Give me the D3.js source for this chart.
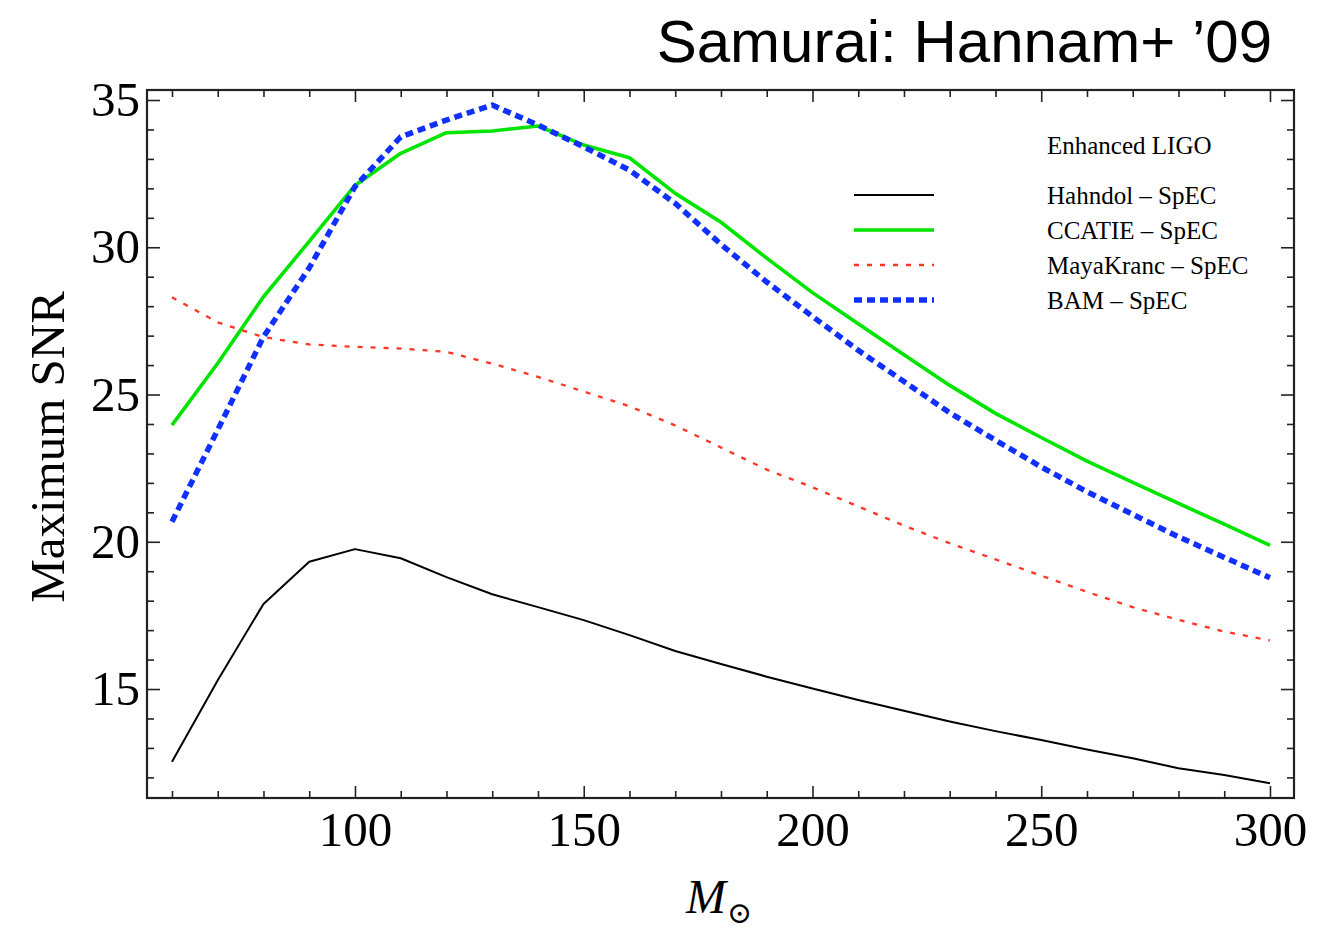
<!DOCTYPE html>
<html>
<head>
<meta charset="utf-8">
<script src="https://cdn.jsdelivr.net/npm/d3@7"></script>
<style>
body{margin:0;background:#fff;}
svg{display:block;}
.axis text{font-family:"Liberation Serif","Times New Roman",serif;font-size:49px;fill:#000;}
.axis line{stroke:#222;stroke-width:1.6;}
.axis path{display:none;}
</style>
</head>
<body>
<div id="chart"></div>
<script>
// data (solar masses vs max SNR)
var mass      = [60,70,80,90,100,110,120,130,140,150,160,170,180,190,200,210,220,230,240,250,260,270,280,290,300];
var hahndol   = [12.53,15.30,17.89,19.32,19.75,19.44,18.80,18.22,17.78,17.34,16.83,16.29,15.85,15.42,15.02,14.63,14.26,13.90,13.57,13.27,12.95,12.65,12.31,12.08,11.80];
var ccatie    = [23.96,26.06,28.32,30.20,32.10,33.19,33.89,33.95,34.12,33.47,33.04,31.83,30.85,29.63,28.46,27.40,26.35,25.31,24.36,23.54,22.74,22.02,21.30,20.60,19.88];
var mayakranc = [28.30,27.45,26.95,26.70,26.62,26.56,26.45,26.05,25.60,25.10,24.60,23.95,23.20,22.45,21.85,21.20,20.55,19.95,19.40,18.85,18.30,17.78,17.35,16.95,16.65];
var bam       = [20.68,23.80,26.96,29.30,32.06,33.75,34.32,34.83,34.15,33.41,32.62,31.49,30.10,28.82,27.65,26.50,25.44,24.38,23.45,22.54,21.70,20.93,20.17,19.47,18.78];
var names     = ['Hahndol \u2013 SpEC','CCATIE \u2013 SpEC','MayaKranc \u2013 SpEC','BAM \u2013 SpEC'];
var xmajor    = [100,150,200,250,300];
var ymajor    = [15,20,25,30,35];

var W = 1329, H = 929;
var box = {l:147, r:1294, t:90, b:798};

var styles = [
  {color:'#000000', width:2,   dash:null},
  {color:'#00e400', width:3.6, dash:null},
  {color:'#ff3424', width:2.3, dash:'5,8'},
  {color:'#1030ff', width:5.5, dash:'8,5'}
];

var svg = d3.select('#chart').append('svg').attr('width',W).attr('height',H);

var x = d3.scaleLinear().domain([54.54,305.25]).range([box.l,box.r]);
var y = d3.scaleLinear().domain([11.30,35.34]).range([box.b,box.t]);

var xminor = d3.range(60,301,10).filter(v => xmajor.indexOf(v) < 0);
var yminor = d3.range(12,36,1).filter(v => ymajor.indexOf(v) < 0);

function gen_axes(){
  // labelled major ticks, bottom and left
  svg.append('g').attr('class','axis').attr('transform','translate(0,'+box.b+')')
    .call(d3.axisBottom(x).tickValues(xmajor).tickSizeInner(-12).tickSizeOuter(0).tickPadding(13));
  svg.append('g').attr('class','axis').attr('transform','translate('+box.l+',0)')
    .call(d3.axisLeft(y).tickValues(ymajor).tickSizeInner(-13).tickSizeOuter(0).tickPadding(7));
  // unlabelled major ticks, top and right
  svg.append('g').attr('class','axis').attr('transform','translate(0,'+box.t+')')
    .call(d3.axisTop(x).tickValues(xmajor).tickSizeInner(-12).tickSizeOuter(0).tickFormat(''));
  svg.append('g').attr('class','axis').attr('transform','translate('+box.r+',0)')
    .call(d3.axisRight(y).tickValues(ymajor).tickSizeInner(-13).tickSizeOuter(0).tickFormat(''));
  // minor ticks on all four sides
  svg.append('g').attr('class','axis').attr('transform','translate(0,'+box.b+')')
    .call(d3.axisBottom(x).tickValues(xminor).tickSizeInner(-7).tickSizeOuter(0).tickFormat(''));
  svg.append('g').attr('class','axis').attr('transform','translate(0,'+box.t+')')
    .call(d3.axisTop(x).tickValues(xminor).tickSizeInner(-7).tickSizeOuter(0).tickFormat(''));
  svg.append('g').attr('class','axis').attr('transform','translate('+box.l+',0)')
    .call(d3.axisLeft(y).tickValues(yminor).tickSizeInner(-7).tickSizeOuter(0).tickFormat(''));
  svg.append('g').attr('class','axis').attr('transform','translate('+box.r+',0)')
    .call(d3.axisRight(y).tickValues(yminor).tickSizeInner(-7).tickSizeOuter(0).tickFormat(''));
  // frame
  svg.append('rect').attr('x',box.l).attr('y',box.t)
    .attr('width',box.r-box.l).attr('height',box.b-box.t)
    .attr('fill','none').attr('stroke','#222').attr('stroke-width',2.2);
}

function gen_lines(){
  var line = d3.line().x((d,i) => x(mass[i])).y(d => y(d));
  [hahndol,ccatie,mayakranc,bam].forEach(function(vals,k){
    var s = styles[k];
    svg.append('path').datum(vals).attr('d',line)
      .attr('fill','none').attr('stroke',s.color).attr('stroke-width',s.width)
      .attr('stroke-dasharray',s.dash).attr('stroke-linejoin','round');
  });
}

function gen_legend(){
  var g = svg.append('g').style('font-family','"Liberation Serif","Times New Roman",serif')
    .style('font-size','25px');
  g.append('text').attr('x',1047).attr('y',154).text('Enhanced LIGO');
  var rows = [195,230,265,300];
  names.forEach(function(n,k){
    var s = styles[k];
    g.append('line').attr('x1',854).attr('x2',934).attr('y1',rows[k]).attr('y2',rows[k])
      .attr('stroke',s.color).attr('stroke-width',s.width).attr('stroke-dasharray',s.dash);
    g.append('text').attr('x',1047).attr('y',rows[k]+9).text(n);
  });
}

function gen_labels(){
  svg.append('text').attr('transform','translate(64,447) rotate(-90)')
    .attr('text-anchor','middle')
    .style('font-family','"Liberation Serif","Times New Roman",serif').style('font-size','49px')
    .text('Maximum SNR');
  svg.append('text').attr('x',686).attr('y',913)
    .style('font-family','"Liberation Serif","Times New Roman",serif').style('font-size','48px')
    .style('font-style','italic').text('M');
  svg.append('text').attr('x',727).attr('y',923)
    .style('font-family','"DejaVu Serif",serif').style('font-size','30px')
    .text('\u2299');
  svg.append('text').attr('x',1272).attr('y',62).attr('text-anchor','end')
    .style('font-family','"Liberation Sans",Arial,sans-serif').style('font-size','60px')
    .style('font-weight','300')
    .text('Samurai: Hannam+ \u201909');
}

gen_axes();
gen_lines();
gen_legend();
gen_labels();
</script>
</body>
</html>
